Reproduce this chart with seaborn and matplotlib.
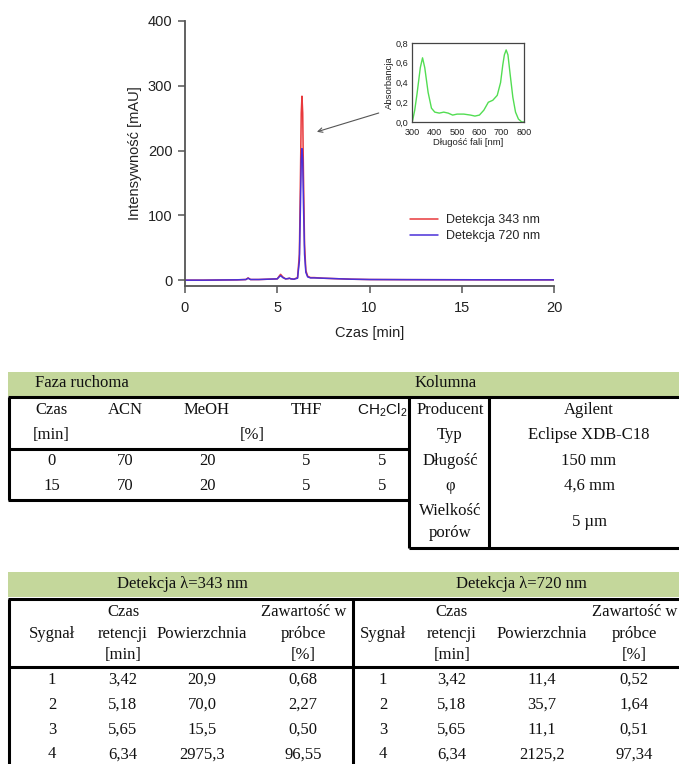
import numpy as np
import pandas as pd
import matplotlib
matplotlib.use("Agg")
import matplotlib.pyplot as plt
from matplotlib.patches import Rectangle
from matplotlib.ticker import FuncFormatter
import seaborn as sns

# ---------------- chromatogram data ----------------
time_min = [0.0, 1.0, 2.0, 2.8, 3.3, 3.42, 3.55, 4.0, 4.5, 5.0, 5.1, 5.18, 5.3,
            5.45, 5.6, 5.65, 5.75, 5.9, 6.1, 6.2, 6.26, 6.30, 6.34, 6.38, 6.42,
            6.48, 6.55, 6.65, 6.8, 7.0, 7.5, 8.0, 9.0, 10.0, 12.0, 14.0, 16.0,
            18.0, 20.0]
det_343 = [0.0, 0.0, 0.3, 0.5, 1.0, 3.5, 1.0, 1.0, 1.5, 2.0, 6.0, 9.0, 5.0,
           2.0, 2.5, 3.0, 2.0, 1.5, 4.0, 40.0, 165.0, 258.0, 284.0, 258.0, 165.0,
           55.0, 15.0, 6.0, 4.0, 4.0, 3.0, 2.5, 1.5, 1.0, 0.8, 0.7, 0.6, 0.5, 0.5]
det_720 = [0.0, 0.0, 0.3, 0.5, 1.0, 3.0, 1.0, 1.0, 1.5, 2.0, 5.0, 7.0, 4.0,
           2.0, 2.5, 3.0, 2.0, 1.5, 3.0, 30.0, 120.0, 185.0, 203.0, 185.0, 120.0,
           40.0, 12.0, 5.0, 3.5, 3.5, 3.0, 2.5, 1.5, 1.0, 0.8, 0.7, 0.6, 0.5, 0.5]
series_names = ["Detekcja 343 nm", "Detekcja 720 nm"]
series_colors = ["#E8393C", "#4A30D8"]

# ---------------- UV-Vis spectrum (inset) ----------------
wavelength_nm = [300, 310, 320, 335, 345, 355, 370, 385, 400, 420, 440, 460, 480,
                 500, 530, 560, 580, 600, 620, 640, 660, 680, 695, 705, 712, 720,
                 728, 738, 750, 762, 775, 790, 800]
absorbance = [0.01, 0.12, 0.28, 0.55, 0.65, 0.55, 0.30, 0.14, 0.10, 0.09, 0.10,
              0.09, 0.07, 0.08, 0.08, 0.07, 0.06, 0.07, 0.12, 0.20, 0.22, 0.27,
              0.40, 0.58, 0.68, 0.73, 0.68, 0.48, 0.25, 0.10, 0.03, 0.0, 0.0]

# ---------------- table 1 ----------------
mobile_header_1 = ["Czas", "ACN", "MeOH", "THF"]
mobile_header_2 = ["[min]", "[%]"]
mobile_rows = [["0", "70", "20", "5", "5"],
               ["15", "70", "20", "5", "5"]]
column_labels = ["Producent", "Typ", "Długość", "φ", "Wielkość\nporów"]
column_values = ["Agilent", "Eclipse XDB-C18", "150 mm", "4,6 mm", "5 µm"]

# ---------------- table 2 ----------------
signal_no = ["1", "2", "3", "4"]
retention = ["3,42", "5,18", "5,65", "6,34"]
area_343 = ["20,9", "70,0", "15,5", "2975,3"]
share_343 = ["0,68", "2,27", "0,50", "96,55"]
area_720 = ["11,4", "35,7", "11,1", "2125,2"]
share_720 = ["0,52", "1,64", "0,51", "97,34"]

# ======================================================================
sns.set_style("ticks")
plt.rcParams["font.family"] = ["Liberation Sans", "DejaVu Sans"]

W, H = 679, 764
fig = plt.figure(figsize=(W / 100, H / 100), dpi=100)

def fx(px):
    return px / W

def fy(py):
    return 1 - py / H

# ---------------- main chromatogram ----------------
ax = fig.add_axes([fx(185), fy(286), fx(554) - fx(185), fy(21) - fy(286)])
df = pd.DataFrame({
    "Czas": time_min * 2,
    "I": det_343 + det_720,
    "Seria": [series_names[0]] * len(time_min) + [series_names[1]] * len(time_min),
})
sns.lineplot(data=df, x="Czas", y="I", hue="Seria", hue_order=series_names,
             palette=series_colors, errorbar=None, linewidth=1.1, ax=ax)
ax.set_xlim(0, 20)
ax.set_ylim(-9, 400)
ax.set_xticks([0, 5, 10, 15, 20])
ax.set_yticks([0, 100, 200, 300, 400])
spine_col = "#555555"
for s in ["top", "right"]:
    ax.spines[s].set_visible(False)
for s in ["left", "bottom"]:
    ax.spines[s].set_color(spine_col)
    ax.spines[s].set_linewidth(1.3)
ax.tick_params(axis="both", direction="out", length=5, width=1.1, color=spine_col,
               labelsize=10.5, labelcolor="#222222")
ax.tick_params(axis="y", pad=4)
ax.tick_params(axis="x", pad=6)
ax.set_xlabel("Czas [min]", fontsize=10.5, color="#222222", labelpad=8)
ax.set_ylabel("Intensywność [mAU]", fontsize=10.5, color="#222222", labelpad=4)
sns.move_legend(ax, loc="upper left", bbox_to_anchor=((410 - 185) / 369, (286 - 214) / 265),
                title=None, frameon=False, fontsize=9, handlelength=2.25,
                handletextpad=0.65, labelspacing=0.35, borderpad=0, borderaxespad=0)

ax.annotate("", xy=(7.15, 229), xytext=(10.5, 258),
            arrowprops=dict(arrowstyle="->", color="#555555", lw=0.8,
                            mutation_scale=8, shrinkA=0, shrinkB=0))

# ---------------- inset spectrum ----------------
axi = fig.add_axes([fx(412.5), fy(122), fx(524) - fx(412.5), fy(43) - fy(122)])
sns.lineplot(x=wavelength_nm, y=absorbance, color="#52DD52", linewidth=1.0, ax=axi)
axi.set_xlim(300, 800)
axi.set_ylim(0, 0.8)
axi.set_xticks([300, 400, 500, 600, 700, 800])
axi.set_yticks([0.0, 0.2, 0.4, 0.6, 0.8])
axi.yaxis.set_major_formatter(FuncFormatter(lambda v, p: f"{v:.1f}".replace(".", ",")))
for s in axi.spines.values():
    s.set_visible(True)
    s.set_color("#444444")
    s.set_linewidth(0.9)
axi.tick_params(axis="both", length=0, labelsize=6.6, labelcolor="#222222")
axi.tick_params(axis="y", pad=3)
axi.tick_params(axis="x", pad=4)
axi.set_xlabel("Długość fali [nm]", fontsize=6.8, color="#222222", labelpad=1)
axi.set_ylabel("Absorbancja", fontsize=6.8, color="#222222", labelpad=1)

# ---------------- tables ----------------
tax = fig.add_axes([0, 0, 1, 1], zorder=-1)
tax.set_xlim(0, W)
tax.set_ylim(H, 0)
tax.axis("off")

serif = ["Liberation Serif", "DejaVu Serif"]
FS = 12
green = "#C4D79B"
LW = 2.2

def txt(x, y, s, ha="center", **kw):
    tax.text(x, y, s, ha=ha, va="center", fontsize=kw.pop("fs", FS),
             family=kw.pop("family", serif), color="#111111", **kw)

def hl(y, x0, x1):
    tax.plot([x0, x1], [y, y], color="black", lw=LW, solid_capstyle="butt")

def vl(x, y0, y1):
    tax.plot([x, x], [y0, y1], color="black", lw=LW, solid_capstyle="butt")

# table 1
tax.add_patch(Rectangle((8, 372), W - 8, 23.5, color=green, lw=0))
txt(35, 383, "Faza ruchoma", ha="left")
txt(415, 383, "Kolumna", ha="left")
hl(397, 8, W)
hl(449, 8, 409)
hl(500, 8, 409)
vl(9, 397, 500)
vl(409, 397, 548)
vl(489, 397, 548)
hl(547.5, 409, W)

mob_x = [52, 125, 207, 306, 382]
for x, s in zip(mob_x[:4], mobile_header_1):
    txt(x, 410, s)
txt(mob_x[4], 410, r"$\mathregular{CH_2Cl_2}$", family=["Liberation Sans"], fs=11)
txt(51, 435, mobile_header_2[0])
txt(252, 435, mobile_header_2[1])
for y, row in zip([461, 486], mobile_rows):
    for x, s in zip(mob_x, row):
        txt(x, y, s)

for y, lab, val in zip([410, 435, 461, 486, 522], column_labels, column_values):
    txt(450, y, lab, linespacing=1.45)
    txt(589, y, val)

# table 2
tax.add_patch(Rectangle((8, 572), W - 8, 25, color=green, lw=0))
txt(182, 584, "Detekcja λ=343 nm")
txt(521, 584, "Detekcja λ=720 nm")
hl(598.5, 8, W)
hl(667, 8, W)
vl(9, 598.5, H)
vl(353, 598.5, H)

r1, r2, r3 = 612, 633.5, 655
row_y = [680, 705, 729.5, 754.5]
for cx, zx, area, share in [((52, 123, 202, 303), 304, area_343, share_343),
                            ((383, 452, 542, 634), 635, area_720, share_720)]:
    txt(cx[0], r2, "Sygnał")
    txt(cx[1], r1, "Czas")
    txt(cx[1], r2, "retencji")
    txt(cx[1], r3, "[min]")
    txt(cx[2], r2, "Powierzchnia")
    txt(zx, r1, "Zawartość w")
    txt(cx[3], r2, "próbce")
    txt(cx[3], r3, "[%]")
    for i, y in enumerate(row_y):
        txt(cx[0], y, signal_no[i])
        txt(cx[1], y, retention[i])
        txt(cx[2], y, area[i])
        txt(cx[3], y, share[i])

fig.savefig("out.png", dpi=100)
